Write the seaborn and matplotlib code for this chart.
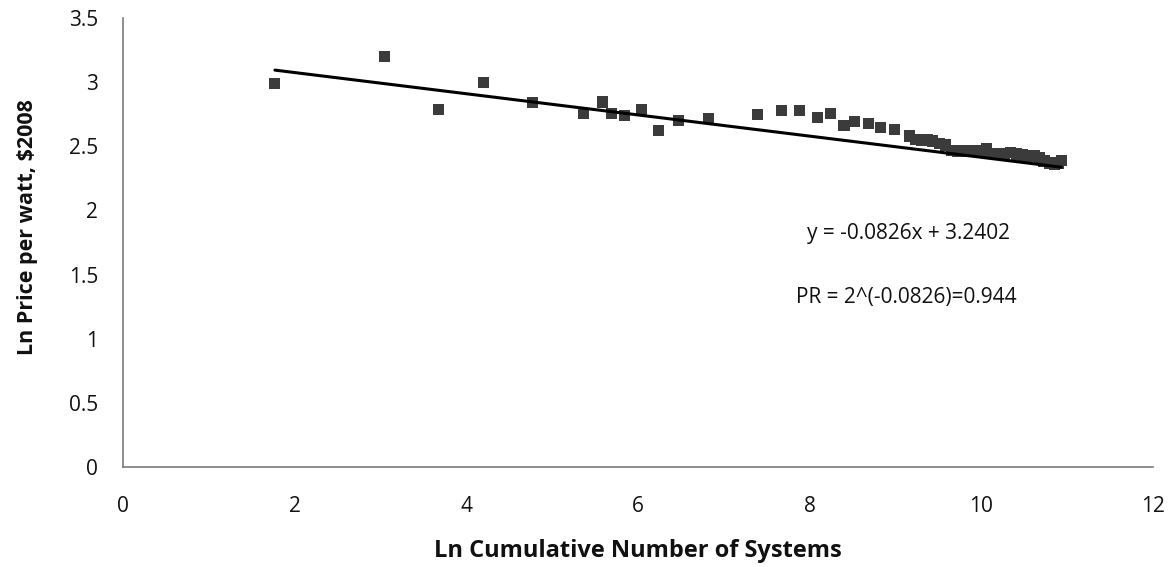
import matplotlib
matplotlib.use("Agg")
import matplotlib.pyplot as plt
import numpy as np
import pandas as pd
import seaborn as sns

# Ln cumulative number of systems vs. ln price per watt ($2008)
ln_cum_systems = [
    1.77, 3.05, 3.68, 4.20, 4.77, 5.37, 5.59, 5.69, 5.84, 6.04,
    6.24, 6.47, 6.82, 7.39, 7.67, 7.88, 8.09, 8.24, 8.40, 8.52,
    8.69, 8.83, 8.99, 9.16, 9.23, 9.30, 9.37, 9.43, 9.51, 9.58,
    9.65, 9.72, 9.78, 9.84, 9.92, 10.00, 10.06, 10.13, 10.20, 10.27,
    10.34, 10.41, 10.48, 10.55, 10.62, 10.68, 10.73, 10.79, 10.85, 10.90,
    10.93,
]
ln_price = [
    2.99, 3.20, 2.79, 2.995, 2.84, 2.757, 2.845, 2.757, 2.74, 2.79,
    2.62, 2.70, 2.72, 2.75, 2.78, 2.78, 2.725, 2.757, 2.66, 2.695,
    2.68, 2.645, 2.63, 2.58, 2.556, 2.549, 2.549, 2.541, 2.525, 2.51,
    2.47, 2.463, 2.463, 2.47, 2.47, 2.463, 2.479, 2.447, 2.447, 2.44,
    2.455, 2.44, 2.432, 2.424, 2.43, 2.41, 2.385, 2.37, 2.36, 2.37,
    2.39,
]

# Linear fit reported on the chart
SLOPE = -0.0826
INTERCEPT = 3.2402

x_ticks = [0, 2, 4, 6, 8, 10, 12]
y_ticks = [0, 0.5, 1, 1.5, 2, 2.5, 3, 3.5]
y_tick_labels = ["0", "0.5", "1", "1.5", "2", "2.5", "3", "3.5"]

df = pd.DataFrame({"x": ln_cum_systems, "y": ln_price})

sns.set_style("white")
plt.rcParams["font.family"] = ["Open Sans", "DejaVu Sans"]

fig = plt.figure(figsize=(11.71, 5.67), dpi=100)
ax = fig.add_axes([0.105, 0.1764, 0.8796, 0.7918])

sns.scatterplot(data=df, x="x", y="y", marker="s", s=64, color="#3b3b3b",
                edgecolor="none", ax=ax, zorder=3)

fit_x = np.array([min(ln_cum_systems), max(ln_cum_systems)])
fit_df = pd.DataFrame({"x": fit_x, "y": SLOPE * fit_x + INTERCEPT})
sns.lineplot(data=fit_df, x="x", y="y", color="black", linewidth=2.2, ax=ax, zorder=4)

ax.set_xlim(0, 12)
ax.set_ylim(0, 3.5)
ax.set_xticks(x_ticks)
ax.set_xticklabels([str(t) for t in x_ticks])
ax.set_yticks(y_ticks)
ax.set_yticklabels(y_tick_labels)

for side in ("top", "right"):
    ax.spines[side].set_visible(False)
for side in ("left", "bottom"):
    ax.spines[side].set_color("#7a7a7a")
    ax.spines[side].set_linewidth(1.2)

ax.tick_params(axis="x", direction="out", length=6, width=1.2, color="#7a7a7a",
               labelsize=15, pad=15, labelcolor="#111111")
ax.tick_params(axis="y", direction="out", length=6, width=1.2, color="#7a7a7a",
               labelsize=15, pad=12, labelcolor="#111111")

ax.set_xlabel("Ln Cumulative Number of Systems", fontsize=17, fontweight="bold",
              labelpad=16, color="#111111")
ax.set_ylabel("Ln Price per watt, $2008", fontsize=15.5, fontweight="bold",
              color="#111111")
ax.yaxis.set_label_coords(-0.082, 0.535)

ax.text(7.97, 1.82, "y = -0.0826x + 3.2402", fontsize=15, va="center", ha="left",
        color="#111111")
ax.text(7.84, 1.325, "PR = 2^(-0.0826)=0.944", fontsize=15, va="center", ha="left",
        color="#111111")

fig.savefig("out.png", dpi=100)
